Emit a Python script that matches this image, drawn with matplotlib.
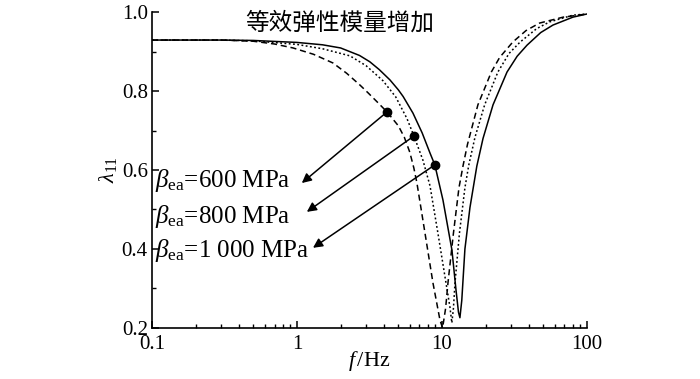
import matplotlib
matplotlib.use('Agg')
import matplotlib.pyplot as plt
from matplotlib.ticker import FixedLocator, FixedFormatter, NullFormatter

plt.rcParams['font.family'] = ['Liberation Serif', 'Noto Sans CJK SC']
plt.rcParams['mathtext.fontset'] = 'custom'
plt.rcParams['mathtext.rm'] = 'Liberation Serif'
plt.rcParams['mathtext.it'] = 'Liberation Serif:italic'

# beta_ea = 600 MPa (dashed)
f_600 = [0.1, 0.3, 0.5, 0.7, 0.94, 1.3, 1.77, 2.2, 2.72, 3.1, 3.56, 4.18, 5.0, 5.5, 6.0, 6.4, 6.72, 7.64,
         8.67, 9.69, 10.1, 10.6, 11.0, 12.0, 13.1, 14.0, 15.0, 17.7, 21.9, 25.0, 30.8, 38.0, 47.1, 68.5, 100]
lam_600 = [0.929, 0.929, 0.926, 0.919, 0.909, 0.893, 0.871, 0.845, 0.815, 0.795, 0.773, 0.747, 0.712,
           0.683, 0.645, 0.605, 0.567, 0.44, 0.314, 0.22, 0.2, 0.25, 0.314, 0.44, 0.555, 0.612, 0.665,
           0.765, 0.848, 0.885, 0.924, 0.953, 0.972, 0.987, 0.995]

# beta_ea = 800 MPa (dotted)
f_800 = [0.1, 0.3, 0.5, 1.0, 1.5, 2.32, 3.0, 3.92, 4.8, 5.74, 6.41, 7.39, 8.27, 9.38, 10.5, 11.35, 11.7,
         12.0, 12.3, 13.2, 14.4, 15.3, 16.9, 19.7, 24.3, 29.0, 34.6, 45.0, 55.3, 80, 100]
lam_800 = [0.929, 0.929, 0.927, 0.918, 0.907, 0.889, 0.864, 0.826, 0.785, 0.730, 0.686, 0.625, 0.56,
           0.44, 0.329, 0.253, 0.213, 0.25, 0.314, 0.44, 0.555, 0.612, 0.683, 0.765, 0.848, 0.895,
           0.924, 0.958, 0.975, 0.992, 0.995]

# beta_ea = 1000 MPa (solid)
f_1000 = [0.1, 0.3, 0.5, 1.0, 1.5, 2.0, 2.7, 3.18, 3.7, 4.38, 5.0, 5.4, 6.31, 7.3, 8.27, 8.93, 10.16,
          11.72, 12.5, 13.0, 13.3, 13.7, 14.4, 15.6, 17.4, 19.2, 22.5, 28.1, 33.0, 38.6, 48.0, 58.3, 80, 100]
lam_1000 = [0.929, 0.929, 0.928, 0.923, 0.917, 0.909, 0.890, 0.874, 0.854, 0.828, 0.803, 0.786, 0.744,
            0.694, 0.643, 0.613, 0.524, 0.397, 0.296, 0.24, 0.226, 0.27, 0.40, 0.505, 0.61, 0.68,
            0.765, 0.848, 0.888, 0.916, 0.948, 0.967, 0.987, 0.995]

# marked points and their labels
dot_f = [4.18, 6.41, 8.93]
dot_lam = [0.747, 0.686, 0.613]
head_f = [1.08, 1.17, 1.29]
head_lam = [0.567, 0.494, 0.403]
label_f = 0.105
label_lam = [0.557, 0.466, 0.380]
labels = [r'$\beta_{\rm ea}$=600 MPa', r'$\beta_{\rm ea}$=800 MPa', r'$\beta_{\rm ea}$=1 000 MPa']

fig = plt.figure(figsize=(7, 3.79), dpi=100)
ax = fig.add_axes([0.2171, 0.1346, 0.6214, 0.8337])

ax.plot(f_600, lam_600, color='k', lw=1.1, dashes=(4, 2.5))
ax.plot(f_800, lam_800, color='k', lw=1.1, dashes=(1.2, 1.6))
ax.plot(f_1000, lam_1000, color='k', lw=1.1)
ax.plot(dot_f, dot_lam, 'o', color='k', ms=6)

for i in range(3):
    ax.annotate('', xy=(head_f[i], head_lam[i]), xytext=(dot_f[i], dot_lam[i]),
                arrowprops=dict(arrowstyle='-|>', color='k', lw=1.1, mutation_scale=14,
                                shrinkA=0, shrinkB=0))
    ax.text(label_f, label_lam[i], labels[i], fontsize=18, ha='left', va='baseline')

ax.text(0.432, 0.965, '等效弹性模量增加', transform=ax.transAxes, fontsize=17,
        family=['Noto Sans CJK SC'], fontweight='light', ha='center', va='center')

ax.set_xscale('log')
ax.set_xlim(0.1, 100)
ax.set_ylim(0.2, 1.0)
ax.xaxis.set_major_locator(FixedLocator([0.1, 1, 10, 100]))
ax.xaxis.set_major_formatter(FixedFormatter(['0.1', '1', '10', '100']))
ax.xaxis.set_minor_formatter(NullFormatter())
ax.yaxis.set_major_locator(FixedLocator([0.2, 0.4, 0.6, 0.8, 1.0]))
ax.yaxis.set_major_formatter(FixedFormatter(['0.2', '0.4', '0.6', '0.8', '1.0']))
ax.yaxis.set_minor_locator(FixedLocator([0.3, 0.5, 0.7, 0.9]))

ax.spines['top'].set_visible(False)
ax.spines['right'].set_visible(False)
ax.spines['left'].set_linewidth(1.2)
ax.spines['bottom'].set_linewidth(1.2)
ax.tick_params(which='major', direction='in', length=5, width=1.1, labelsize=15)
ax.tick_params(which='minor', direction='in', length=3, width=1.0)
ax.tick_params(axis='x', pad=5)
ax.tick_params(axis='y', pad=3)

ax.set_xlabel(r'$f\,$/Hz', fontsize=16)
ax.xaxis.set_label_coords(0.5, -0.065)
ax.set_ylabel(r'$\lambda_{11}$', fontsize=16)
ax.yaxis.set_label_coords(-0.075, 0.5)

plt.savefig('out.png', dpi=100)
